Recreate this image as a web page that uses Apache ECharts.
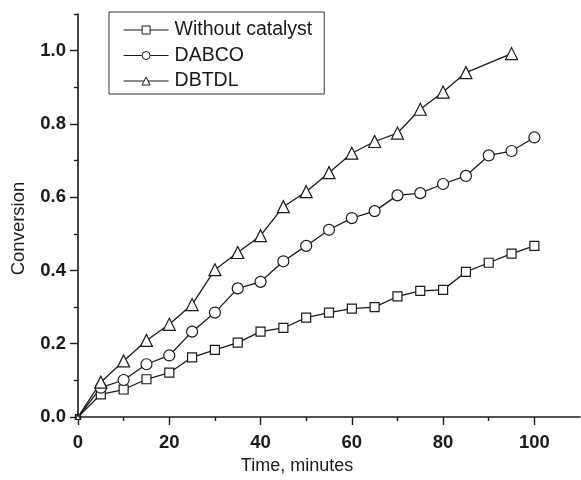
<!DOCTYPE html>
<html>
<head>
<meta charset="utf-8">
<script src="https://cdn.jsdelivr.net/npm/echarts@6/dist/echarts.min.js"></script>
<style>
html,body{margin:0;padding:0;background:#fff;}
#chart{width:581px;height:480px;}
</style>
</head>
<body>
<div id="chart"></div>
<script>
var seriesNames = ['Without catalyst', 'DABCO', 'DBTDL'];
var timeAll = [0,5,10,15,20,25,30,35,40,45,50,55,60,65,70,75,80,85,90,95,100];
var withoutCatalyst = [0,0.062,0.075,0.103,0.121,0.163,0.183,0.203,0.233,0.243,0.271,0.285,0.296,0.300,0.329,0.344,0.347,0.396,0.421,0.446,0.467];
var dabco = [0,0.080,0.101,0.144,0.168,0.233,0.285,0.351,0.369,0.425,0.467,0.511,0.543,0.562,0.605,0.611,0.636,0.658,0.714,0.726,0.763];
var timeDbtdl = [0,5,10,15,20,25,30,35,40,45,50,55,60,65,70,75,80,85,95];
var dbtdl = [0,0.095,0.153,0.209,0.253,0.307,0.402,0.449,0.495,0.574,0.615,0.667,0.720,0.752,0.775,0.840,0.887,0.940,0.992];
var xMajorTicks = [0,20,40,60,80,100];
var xMinorTicks = [10,30,50,70,90];
var yMajorTicks = [0,0.2,0.4,0.6,0.8,1.0];
var yMinorTicks = [0.1,0.3,0.5,0.7,0.9,1.1];

function pairs(xs, ys){ return xs.map(function(x,i){ return [x, ys[i]]; }); }

var chart = echarts.init(document.getElementById('chart'), null, {renderer:'canvas'});
var ink = '#1a1a1a';
var font = 'Liberation Sans, Arial, sans-serif';
function mkSeries(name, data, symbol, size){
  return {
    name: name, type: 'line', xAxisIndex: 0, yAxisIndex: 0,
    data: data, symbol: symbol,
    symbolSize: function(v){ return v[0] === 0 ? 5 : size; },
    showAllSymbol: true, clip: false,
    lineStyle: {color: ink, width: 1.3},
    itemStyle: {color: '#fff', borderColor: ink, borderWidth: 1.2},
    emphasis: {disabled: true},
    animation: false
  };
}
var option = {
  animation: false,
  backgroundColor: '#fff',
  grid: {left: 78, right: 1, top: 14, bottom: 62, containLabel: false},
  legend: {
    orient: 'vertical', left: 109, top: 12,
    padding: [8, 12, 3, 14],
    itemWidth: 45, itemHeight: 10, itemGap: 5.5,
    borderColor: '#333', borderWidth: 1,
    textStyle: {fontFamily: font, fontSize: 19.5, color: ink, padding: [0,0,0,1]},
    itemStyle: {color: '#fff', borderColor: ink, borderWidth: 1},
    lineStyle: {color: ink, width: 1.2},
    data: seriesNames
  },
  xAxis: [{
    type: 'value', min: 0, max: 110,
    name: 'Time, minutes', nameLocation: 'middle', nameGap: 40,
    nameTextStyle: {fontFamily: font, fontSize: 18, color: ink, padding: [0, 64, 0, 0]},
    axisLine: {show: true, onZero: false, lineStyle: {color: ink, width: 1.6}},
    axisTick: {show: true, inside: false, length: 8, customValues: xMajorTicks, lineStyle: {color: ink, width: 1.4}},
    axisLabel: {show: true, margin: 16, customValues: xMajorTicks, fontFamily: font, fontSize: 18.5, fontWeight: 'bold', color: ink},
    splitLine: {show: false}
  },{
    type: 'value', min: 0, max: 110, position: 'bottom',
    axisLine: {show: false},
    axisTick: {show: true, inside: false, length: 4, customValues: xMinorTicks, lineStyle: {color: ink, width: 1.4}},
    axisLabel: {show: false},
    splitLine: {show: false}
  }],
  yAxis: [{
    type: 'value', min: 0, max: 1.1,
    name: 'Conversion', nameLocation: 'middle', nameGap: 50,
    nameTextStyle: {fontFamily: font, fontSize: 18.5, color: ink, padding: [0, 26, 0, 0]},
    axisLine: {show: true, onZero: false, lineStyle: {color: ink, width: 1.6}},
    axisTick: {show: true, inside: false, length: 8, customValues: yMajorTicks, lineStyle: {color: ink, width: 1.4}},
    axisLabel: {show: true, margin: 12, customValues: yMajorTicks, fontFamily: font, fontSize: 18.5, fontWeight: 'bold', color: ink,
      formatter: function(v){ return v.toFixed(1); }},
    splitLine: {show: false}
  },{
    type: 'value', min: 0, max: 1.1, position: 'left',
    axisLine: {show: false},
    axisTick: {show: true, inside: false, length: 4, customValues: yMinorTicks, lineStyle: {color: ink, width: 1.4}},
    axisLabel: {show: false},
    splitLine: {show: false}
  }],
  series: [
    mkSeries(seriesNames[0], pairs(timeAll, withoutCatalyst), 'rect', 9),
    mkSeries(seriesNames[1], pairs(timeAll, dabco), 'circle', 11),
    mkSeries(seriesNames[2], pairs(timeDbtdl, dbtdl), 'triangle', 12)
  ]
};
chart.setOption(option);
</script>
</body>
</html>
